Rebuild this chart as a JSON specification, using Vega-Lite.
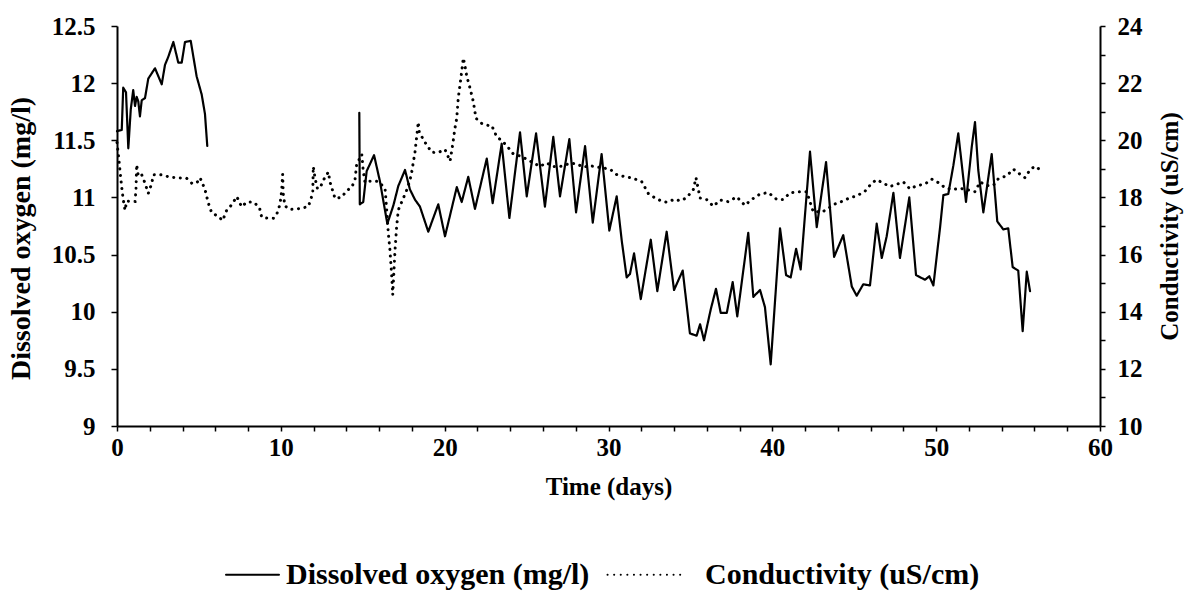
{
  "$schema": "https://vega.github.io/schema/vega-lite/v6.json",
  "width": 983,
  "height": 400,
  "autosize": {"type": "none"},
  "padding": {"left": 117, "top": 26, "right": 103, "bottom": 175},
  "background": "white",
  "datasets": {
    "do": [
      {"t":0,"v":11.58,"g":1},{"t":0.29,"v":11.59,"g":1},{"t":0.38,"v":11.96,"g":1},{"t":0.55,"v":11.92,"g":1},
      {"t":0.69,"v":11.43,"g":1},{"t":0.84,"v":11.77,"g":1},{"t":0.99,"v":11.94,"g":1},{"t":1.10,"v":11.80,"g":1},
      {"t":1.20,"v":11.88,"g":1},{"t":1.30,"v":11.84,"g":1},{"t":1.40,"v":11.71,"g":1},{"t":1.51,"v":11.85,"g":1},
      {"t":1.71,"v":11.87,"g":1},{"t":1.91,"v":12.04,"g":1},{"t":2.32,"v":12.13,"g":1},{"t":2.73,"v":11.99,"g":1},
      {"t":2.93,"v":12.16,"g":1},{"t":3.13,"v":12.23,"g":1},{"t":3.44,"v":12.36,"g":1},{"t":3.74,"v":12.18,"g":1},
      {"t":3.95,"v":12.18,"g":1},{"t":4.15,"v":12.36,"g":1},{"t":4.50,"v":12.37,"g":1},{"t":4.86,"v":12.06,"g":1},
      {"t":5.17,"v":11.90,"g":1},{"t":5.37,"v":11.73,"g":1},{"t":5.51,"v":11.45,"g":1},
      {"t":14.79,"v":11.74,"g":2},{"t":14.82,"v":10.94,"g":2},{"t":15.03,"v":10.96,"g":2},{"t":15.24,"v":11.23,"g":2},
      {"t":15.69,"v":11.37,"g":2},{"t":16.05,"v":11.14,"g":2},{"t":16.50,"v":10.77,"g":2},{"t":16.87,"v":10.93,"g":2},
      {"t":17.17,"v":11.10,"g":2},{"t":17.58,"v":11.24,"g":2},{"t":17.88,"v":11.07,"g":2},{"t":18.19,"v":10.98,"g":2},
      {"t":18.49,"v":10.92,"g":2},{"t":19.00,"v":10.70,"g":2},{"t":19.61,"v":10.94,"g":2},{"t":20.02,"v":10.66,"g":2},
      {"t":20.74,"v":11.09,"g":2},{"t":21.04,"v":10.96,"g":2},{"t":21.44,"v":11.18,"g":2},{"t":21.85,"v":10.90,"g":2},
      {"t":22.57,"v":11.34,"g":2},{"t":22.93,"v":10.95,"g":2},{"t":23.48,"v":11.47,"g":2},{"t":23.95,"v":10.82,"g":2},
      {"t":24.60,"v":11.57,"g":2},{"t":25.01,"v":11.01,"g":2},{"t":25.58,"v":11.56,"g":2},{"t":26.12,"v":10.92,"g":2},
      {"t":26.63,"v":11.53,"g":2},{"t":27.04,"v":11.01,"g":2},{"t":27.61,"v":11.51,"g":2},{"t":28.02,"v":10.87,"g":2},
      {"t":28.57,"v":11.45,"g":2},{"t":29.04,"v":10.78,"g":2},{"t":29.58,"v":11.38,"g":2},{"t":30.05,"v":10.71,"g":2},
      {"t":30.50,"v":11.01,"g":2},{"t":30.81,"v":10.62,"g":2},{"t":31.11,"v":10.30,"g":2},{"t":31.31,"v":10.33,"g":2},
      {"t":31.56,"v":10.51,"g":2},{"t":31.97,"v":10.11,"g":2},{"t":32.58,"v":10.63,"g":2},{"t":32.98,"v":10.18,"g":2},
      {"t":33.55,"v":10.70,"g":2},{"t":34.00,"v":10.19,"g":2},{"t":34.53,"v":10.36,"g":2},{"t":34.97,"v":9.81,"g":2},
      {"t":35.38,"v":9.79,"g":2},{"t":35.59,"v":9.89,"g":2},{"t":35.83,"v":9.75,"g":2},{"t":36.24,"v":10.02,"g":2},
      {"t":36.56,"v":10.20,"g":2},{"t":36.85,"v":9.99,"g":2},{"t":37.22,"v":9.99,"g":2},{"t":37.58,"v":10.26,"g":2},
      {"t":37.86,"v":9.96,"g":2},{"t":38.53,"v":10.69,"g":2},{"t":38.84,"v":10.13,"g":2},{"t":39.25,"v":10.19,"g":2},
      {"t":39.55,"v":10.04,"g":2},{"t":39.90,"v":9.54,"g":2},{"t":40.47,"v":10.73,"g":2},{"t":40.84,"v":10.32,"g":2},
      {"t":41.12,"v":10.30,"g":2},{"t":41.45,"v":10.55,"g":2},{"t":41.73,"v":10.37,"g":2},{"t":42.30,"v":11.40,"g":2},
      {"t":42.71,"v":10.74,"g":2},{"t":43.28,"v":11.31,"g":2},{"t":43.77,"v":10.48,"g":2},{"t":44.33,"v":10.67,"g":2},
      {"t":44.85,"v":10.22,"g":2},{"t":45.15,"v":10.14,"g":2},{"t":45.55,"v":10.24,"g":2},{"t":45.96,"v":10.23,"g":2},
      {"t":46.37,"v":10.77,"g":2},{"t":46.68,"v":10.47,"g":2},{"t":46.98,"v":10.66,"g":2},{"t":47.39,"v":11.04,"g":2},
      {"t":47.79,"v":10.47,"g":2},{"t":48.36,"v":11.00,"g":2},{"t":48.77,"v":10.32,"g":2},{"t":49.32,"v":10.28,"g":2},
      {"t":49.58,"v":10.31,"g":2},{"t":49.83,"v":10.23,"g":2},{"t":50.24,"v":10.74,"g":2},{"t":50.44,"v":11.02,"g":2},
      {"t":50.74,"v":11.03,"g":2},{"t":51.05,"v":11.28,"g":2},{"t":51.35,"v":11.56,"g":2},{"t":51.82,"v":10.96,"g":2},
      {"t":52.17,"v":11.44,"g":2},{"t":52.37,"v":11.66,"g":2},{"t":52.57,"v":11.24,"g":2},{"t":52.88,"v":10.87,"g":2},
      {"t":53.39,"v":11.38,"g":2},{"t":53.73,"v":10.79,"g":2},{"t":54.10,"v":10.72,"g":2},{"t":54.40,"v":10.73,"g":2},
      {"t":54.67,"v":10.39,"g":2},{"t":55.01,"v":10.36,"g":2},{"t":55.28,"v":9.83,"g":2},{"t":55.53,"v":10.35,"g":2},
      {"t":55.73,"v":10.18,"g":2}
    ],
    "cond": [
      {"t":0,"v":19.92},{"t":0.08,"v":19.51},{"t":0.29,"v":18.34},{"t":0.38,"v":17.93},{"t":0.49,"v":17.55},
      {"t":0.59,"v":17.87},{"t":1.10,"v":17.86},{"t":1.16,"v":18.27},{"t":1.20,"v":19.15},{"t":1.30,"v":18.74},
      {"t":1.51,"v":18.79},{"t":1.71,"v":18.50},{"t":1.91,"v":18.14},{"t":2.12,"v":18.49},{"t":2.22,"v":18.79},
      {"t":2.62,"v":18.80},{"t":3.24,"v":18.71},{"t":3.85,"v":18.68},{"t":4.25,"v":18.67},{"t":4.56,"v":18.50},
      {"t":4.86,"v":18.50},{"t":5.07,"v":18.69},{"t":5.37,"v":18.28},{"t":5.57,"v":17.81},{"t":5.78,"v":17.46},
      {"t":5.98,"v":17.40},{"t":6.18,"v":17.34},{"t":6.45,"v":17.19},{"t":6.70,"v":17.56},{"t":7.00,"v":17.74},
      {"t":7.31,"v":18.03},{"t":7.61,"v":17.67},{"t":7.92,"v":17.84},{"t":8.32,"v":17.84},{"t":8.69,"v":17.66},
      {"t":8.83,"v":17.31},{"t":9.14,"v":17.28},{"t":9.54,"v":17.27},{"t":9.75,"v":17.41},{"t":9.95,"v":17.76},
      {"t":10.05,"v":18.22},{"t":10.11,"v":18.81},{"t":10.15,"v":18.11},{"t":10.25,"v":17.70},{"t":10.56,"v":17.58},
      {"t":11.17,"v":17.61},{"t":11.68,"v":17.68},{"t":11.95,"v":18.15},{"t":11.98,"v":19.08},{"t":12.09,"v":18.67},
      {"t":12.23,"v":18.32},{"t":12.39,"v":18.32},{"t":12.59,"v":18.60},{"t":12.90,"v":18.89},{"t":13.00,"v":18.54},
      {"t":13.31,"v":17.96},{"t":13.72,"v":18.01},{"t":14.02,"v":18.24},{"t":14.33,"v":18.35},{"t":14.53,"v":18.64},
      {"t":14.63,"v":19.16},{"t":14.94,"v":19.51},{"t":15.03,"v":18.93},{"t":15.14,"v":18.52},{"t":15.44,"v":18.57},
      {"t":15.95,"v":18.56},{"t":16.36,"v":18.32},{"t":16.46,"v":17.57},{"t":16.56,"v":16.75},{"t":16.66,"v":16.16},
      {"t":16.77,"v":15.23},{"t":16.83,"v":14.59},{"t":16.97,"v":16.16},{"t":17.07,"v":16.98},{"t":17.17,"v":17.56},
      {"t":17.68,"v":18.25},{"t":17.88,"v":18.60},{"t":17.99,"v":18.89},{"t":18.19,"v":19.59},{"t":18.39,"v":20.64},
      {"t":18.45,"v":20.28},{"t":18.80,"v":19.93},{"t":19.21,"v":19.58},{"t":19.61,"v":19.57},{"t":20.02,"v":19.68},
      {"t":20.33,"v":19.27},{"t":20.49,"v":19.85},{"t":20.63,"v":20.43},{"t":20.74,"v":20.78},{"t":20.83,"v":21.48},
      {"t":20.94,"v":21.95},{"t":21.14,"v":22.88},{"t":21.24,"v":22.59},{"t":21.35,"v":22.24},{"t":21.55,"v":21.82},
      {"t":21.75,"v":21.35},{"t":21.91,"v":20.77},{"t":22.26,"v":20.59},{"t":22.66,"v":20.52},{"t":22.87,"v":20.52},
      {"t":23.18,"v":20.12},{"t":23.48,"v":19.99},{"t":23.79,"v":19.81},{"t":24.19,"v":19.52},{"t":24.60,"v":19.45},
      {"t":25.01,"v":19.34},{"t":25.41,"v":19.21},{"t":25.82,"v":19.09},{"t":26.23,"v":19.21},{"t":26.63,"v":19.08},
      {"t":27.04,"v":19.08},{"t":27.65,"v":19.19},{"t":28.06,"v":19.18},{"t":28.46,"v":19.06},{"t":28.87,"v":19.11},
      {"t":29.48,"v":19.05},{"t":30.09,"v":18.99},{"t":30.50,"v":18.80},{"t":30.90,"v":18.74},{"t":31.51,"v":18.67},
      {"t":32.03,"v":18.55},{"t":32.43,"v":18.14},{"t":32.74,"v":18.02},{"t":33.14,"v":17.90},{"t":33.55,"v":17.83},
      {"t":34.06,"v":17.94},{"t":34.36,"v":17.88},{"t":34.77,"v":17.99},{"t":35.18,"v":18.28},{"t":35.34,"v":18.69},
      {"t":35.59,"v":17.98},{"t":36.00,"v":17.92},{"t":36.40,"v":17.69},{"t":36.81,"v":17.91},{"t":37.31,"v":17.85},
      {"t":37.83,"v":18.02},{"t":38.33,"v":17.72},{"t":38.64,"v":17.89},{"t":39.25,"v":18.12},{"t":39.75,"v":18.17},
      {"t":40.27,"v":17.93},{"t":40.67,"v":17.93},{"t":41.08,"v":18.16},{"t":41.59,"v":18.20},{"t":42.10,"v":18.20},
      {"t":42.50,"v":17.49},{"t":43.11,"v":17.51},{"t":43.83,"v":17.77},{"t":44.33,"v":17.88},{"t":44.74,"v":17.99},
      {"t":45.15,"v":18.05},{"t":45.66,"v":18.22},{"t":46.07,"v":18.50},{"t":46.37,"v":18.62},{"t":46.77,"v":18.50},
      {"t":47.18,"v":18.38},{"t":47.69,"v":18.48},{"t":48.00,"v":18.54},{"t":48.40,"v":18.30},{"t":48.81,"v":18.41},
      {"t":49.32,"v":18.47},{"t":49.73,"v":18.64},{"t":50.13,"v":18.52},{"t":50.54,"v":18.34},{"t":50.95,"v":18.27},
      {"t":51.46,"v":18.32},{"t":51.96,"v":18.26},{"t":52.37,"v":18.20},{"t":52.68,"v":18.54},{"t":53.09,"v":18.42},
      {"t":53.49,"v":18.42},{"t":53.79,"v":18.65},{"t":54.31,"v":18.76},{"t":54.71,"v":18.99},{"t":55.12,"v":18.81},
      {"t":55.42,"v":18.69},{"t":55.73,"v":18.97},{"t":56.03,"v":19.09},{"t":56.34,"v":18.97}
    ]
  },
  "encoding": {
    "x": {
      "field": "t", "type": "quantitative",
      "scale": {"domain": [0, 60], "nice": false},
      "axis": {
        "title": "Time (days)",
        "values": [0,2,4,6,8,10,12,14,16,18,20,22,24,26,28,30,32,34,36,38,40,42,44,46,48,50,52,54,56,58,60],
        "labelExpr": "datum.value % 10 === 0 ? datum.label : ''",
        "labelOverlap": false, "labelFlush": false,
        "tickSize": 5, "labelPadding": 4, "titlePadding": 14
      }
    }
  },
  "layer": [
    {
      "data": {"name": "do"},
      "mark": {"type": "line", "color": "black", "strokeWidth": 2.2, "strokeJoin": "round", "strokeCap": "round"},
      "encoding": {
        "y": {
          "field": "v", "type": "quantitative",
          "scale": {"domain": [9, 12.5], "nice": false, "zero": false},
          "axis": {
            "orient": "left",
            "title": "Dissolved oxygen (mg/l)",
            "values": [9, 9.5, 10, 10.5, 11, 11.5, 12, 12.5],
            "format": ".1~f",
            "labelOverlap": false,
            "tickSize": 6, "labelPadding": 16, "titlePadding": 16,
            "titleFontSize": 28, "titleY": 212
          }
        },
        "detail": {"field": "g", "type": "nominal"},
        "strokeDash": {
          "datum": "Dissolved oxygen (mg/l)", "type": "nominal",
          "scale": {"domain": ["Dissolved oxygen (mg/l)", "Conductivity (uS/cm)"], "range": [[1, 0], [0.1, 6.5]]},
          "legend": {
            "title": null,
            "symbolStrokeWidth": 2,
            "encode": {
              "symbols": {"update": {
                "strokeCap": {"value": "round"},
                "size": {"signal": "datum.value === 'Conductivity (uS/cm)' ? 6084 : 2809"}
              }},
              "labels": {"update": {
                "dx": {"signal": "datum.value === 'Conductivity (uS/cm)' ? 25 : 0"}
              }}
            }
          }
        }
      }
    },
    {
      "data": {"name": "cond"},
      "mark": {"type": "line", "color": "black", "strokeWidth": 3, "strokeCap": "round"},
      "encoding": {
        "y": {
          "field": "v", "type": "quantitative",
          "scale": {"domain": [10, 24], "nice": false, "zero": false},
          "axis": {
            "orient": "right",
            "title": "Conductivity (uS/cm)",
            "values": [10,11,12,13,14,15,16,17,18,19,20,21,22,23,24],
            "labelExpr": "datum.value % 2 === 0 ? datum.label : ''",
            "labelOverlap": false,
            "tickSize": 5, "labelPadding": 12, "titlePadding": 40,
            "titleAngle": 270
          }
        },
        "strokeDash": {"datum": "Conductivity (uS/cm)", "type": "nominal"}
      }
    }
  ],
  "resolve": {"scale": {"y": "independent"}},
  "config": {
    "view": {"stroke": null},
    "font": "Liberation Serif",
    "axis": {
      "grid": false,
      "labelFont": "Liberation Serif", "labelFontWeight": "bold", "labelFontSize": 25, "labelColor": "black",
      "titleFont": "Liberation Serif", "titleFontWeight": "bold", "titleFontSize": 25, "titleColor": "black",
      "domainColor": "black", "domainWidth": 2, "tickColor": "black", "tickWidth": 1.5
    },
    "legend": {
      "orient": "none", "legendX": 108, "legendY": 521, "direction": "horizontal",
      "padding": 0, "symbolType": "stroke", "symbolSize": 2809, "symbolStrokeWidth": 2,
      "symbolStrokeColor": "black",
      "labelFont": "Liberation Serif", "labelFontWeight": "bold", "labelFontSize": 30, "labelColor": "black",
      "labelOffset": 6, "columnPadding": 13, "labelLimit": 500
    }
  }
}
